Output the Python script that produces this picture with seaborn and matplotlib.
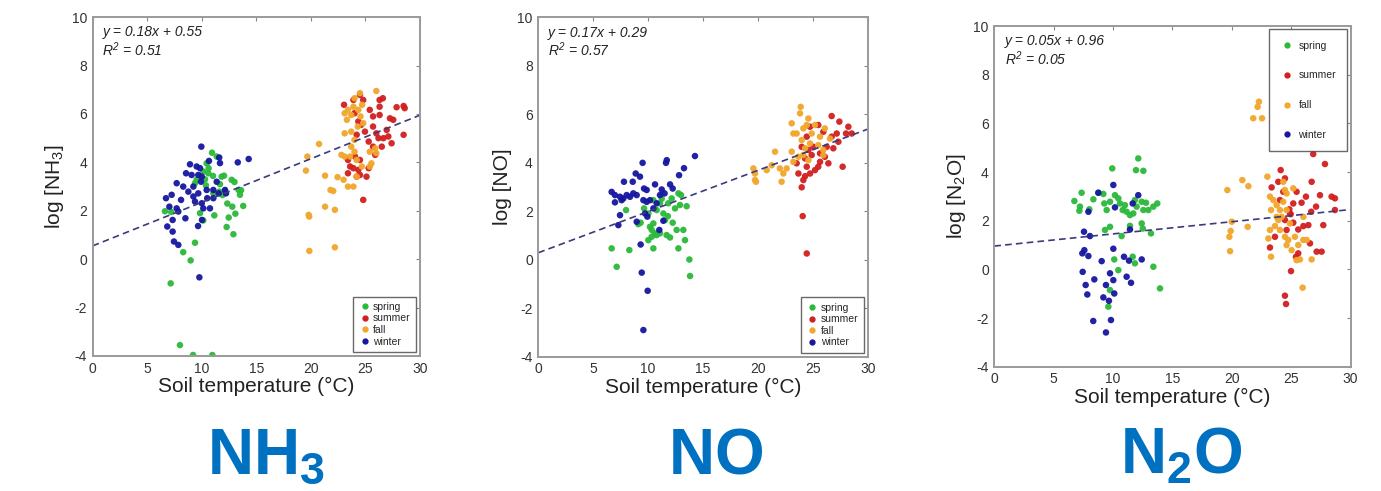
import numpy as np
import pandas as pd
import matplotlib
matplotlib.use("Agg")
import matplotlib.pyplot as plt
from matplotlib.lines import Line2D
import seaborn as sns

seasons = ["spring", "summer", "fall", "winter"]
season_colors = ["#2bb93a", "#d11f1f", "#f2a62c", "#1616a0"]
big_labels = [r"$\mathbf{NH_3}$", r"$\mathbf{NO}$", r"$\mathbf{N_2O}$"]
y_labels = [r"log [NH$_3$]", "log [NO]", r"log [N$_2$O]"]
slopes = [0.18, 0.17, 0.05]
intercepts = [0.55, 0.29, 0.96]
r2_values = [0.51, 0.57, 0.05]
x_ticks = [0, 5, 10, 15, 20, 25, 30]
y_ticks = [-4, -2, 0, 2, 4, 6, 8, 10]

# (soil temperature, log concentration)
nh3_spring = [(7.15, -1.0), (8.0, -3.55), (9.2, -3.96), (10.97, -3.96), (8.3, 0.29), (8.98, -0.05),
              (9.38, 0.68), (6.63, 1.98), (7.2, 1.95), (11.15, 1.81), (12.28, 1.33), (12.9, 1.03),
              (12.47, 1.72), (13.08, 1.88), (12.8, 2.17), (13.8, 2.2), (13.5, 2.66), (13.37, 2.86),
              (13.6, 2.85), (12.34, 2.3), (10.94, 4.4), (11.37, 4.24), (10.45, 3.96), (10.14, 3.62),
              (10.6, 3.55), (9.38, 3.14), (9.53, 3.28), (11.82, 3.41), (12.04, 3.45), (11.67, 3.1),
              (12.74, 3.28), (13.0, 3.19), (10.38, 3.05), (10.63, 3.76), (11.06, 2.72), (11.6, 2.79),
              (12.13, 2.82), (11.03, 3.44), (9.84, 1.9), (10.14, 1.6), (11.9, 2.65), (10.3, 3.3)]
nh3_winter = [(9.96, 4.65), (11.6, 4.2), (14.3, 4.14), (13.3, 4.0), (10.66, 4.06), (8.92, 3.92),
              (9.53, 3.83), (9.84, 3.76), (11.67, 3.97), (8.56, 3.55), (9.07, 3.48), (9.68, 3.48),
              (10.0, 3.41), (7.7, 3.14), (8.3, 3.0), (9.23, 3.0), (9.93, 3.2), (10.45, 2.86),
              (11.06, 2.86), (11.37, 3.2), (12.13, 2.86), (12.22, 2.72), (7.24, 2.66), (6.72, 2.52),
              (8.1, 2.45), (8.77, 2.79), (9.23, 2.59), (9.38, 2.38), (9.68, 2.72), (10.0, 2.31),
              (10.14, 2.1), (10.75, 2.1), (10.5, 2.52), (11.06, 2.52), (7.03, 2.17), (7.7, 2.1),
              (7.85, 1.97), (7.33, 1.62), (8.5, 1.69), (10.02, 1.62), (9.66, 1.37), (6.84, 1.35),
              (7.33, 1.14), (7.45, 0.73), (7.85, 0.59), (9.78, -0.75), (11.55, 2.72)]
nh3_fall = [(19.68, 4.24), (19.55, 3.66), (20.75, 4.76), (21.3, 3.45), (22.45, 3.39), (21.8, 2.86),
            (22.05, 2.82), (21.3, 2.17), (22.2, 2.04), (19.8, 1.83), (19.85, 1.76), (19.86, 0.34),
            (22.2, 0.49), (23.4, 3.0), (23.0, 3.28), (23.9, 3.0), (24.2, 3.41), (22.8, 4.31),
            (23.1, 4.24), (23.7, 4.65), (24.0, 4.93), (23.1, 5.2), (23.3, 5.76), (23.1, 6.03),
            (23.4, 6.17), (23.9, 6.3), (24.0, 6.65), (24.5, 6.86), (26.0, 6.95), (24.55, 5.9),
            (24.8, 5.62), (24.3, 5.48), (24.7, 6.38), (25.4, 4.44), (25.55, 3.96), (25.4, 3.83),
            (24.67, 3.83), (25.9, 4.58), (26.0, 4.38), (23.7, 5.27), (23.6, 4.24), (24.0, 4.44),
            (24.2, 4.1), (23.7, 5.96), (24.35, 6.17)]
nh3_summer = [(23.04, 6.38), (24.5, 6.79), (23.9, 6.58), (25.4, 6.17), (26.3, 6.58), (26.6, 6.65),
              (26.3, 6.3), (27.86, 6.28), (28.5, 6.33), (28.6, 6.24), (28.5, 5.14), (27.25, 5.82),
              (27.55, 5.76), (26.3, 5.96), (25.7, 5.9), (26.95, 5.34), (26.0, 5.2), (25.7, 5.48),
              (24.96, 5.27), (24.0, 6.03), (24.6, 5.55), (24.2, 5.14), (24.35, 5.69), (26.65, 5.0),
              (27.1, 5.07), (27.4, 4.79), (25.7, 4.65), (26.5, 4.65), (25.3, 4.86), (24.05, 4.24),
              (24.5, 4.1), (23.4, 4.1), (23.6, 3.83), (23.9, 3.76), (24.35, 3.69), (24.5, 3.48),
              (24.2, 3.41), (25.3, 3.76), (25.1, 3.41), (23.4, 3.55), (24.8, 2.45), (25.9, 4.31),
              (26.2, 5.0), (24.8, 6.58)]

no_winter = [(14.27, 4.28), (11.63, 4.0), (11.7, 4.11), (9.5, 4.0), (13.27, 3.78), (8.87, 3.56),
             (12.82, 3.49), (7.8, 3.22), (8.6, 3.22), (9.26, 3.43), (9.63, 2.94), (9.87, 2.88),
             (10.63, 3.11), (11.24, 2.9), (11.5, 2.74), (12.0, 3.11), (12.24, 2.94), (6.68, 2.8),
             (6.98, 2.67), (7.44, 2.6), (7.74, 2.53), (8.05, 2.67), (8.35, 2.6), (8.65, 2.74),
             (8.96, 2.67), (7.59, 2.46), (6.98, 2.37), (9.57, 2.46), (9.87, 2.39), (10.17, 2.46),
             (10.48, 2.12), (11.08, 2.67), (10.78, 2.33), (9.72, 1.91), (9.93, 1.78), (8.96, 1.57),
             (7.44, 1.84), (7.29, 1.43), (11.39, 1.61), (11.02, 1.23), (9.32, 0.63), (9.42, -0.53),
             (9.96, -1.28), (9.57, -2.9)]
no_spring = [(6.68, 0.47), (7.14, -0.29), (8.29, 0.4), (7.99, 2.05), (9.11, 1.47), (9.32, 1.53),
             (9.63, 2.12), (10.02, 1.91), (10.48, 2.46), (10.78, 2.05), (11.08, 2.33), (11.24, 2.52),
             (11.84, 2.33), (12.15, 2.53), (12.45, 2.12), (12.76, 2.74), (13.0, 2.67), (13.51, 2.21),
             (12.9, 2.26), (11.39, 1.91), (11.54, 1.64), (12.24, 1.53), (12.6, 1.23), (13.21, 1.23),
             (10.17, 1.36), (10.33, 1.23), (10.48, 1.5), (10.63, 1.09), (10.78, 1.02), (10.33, 0.95),
             (11.08, 1.09), (11.69, 1.02), (12.0, 0.92), (10.02, 0.81), (10.48, 0.47), (13.36, 0.81),
             (12.76, 0.47), (13.76, 0.01), (13.82, -0.67), (11.8, 1.8)]
no_fall = [(19.59, 3.77), (19.74, 3.56), (19.74, 3.29), (19.83, 3.22), (20.8, 3.7), (21.26, 3.9),
           (21.56, 4.46), (22.0, 3.77), (22.16, 3.22), (22.32, 3.56), (23.08, 4.46), (23.23, 5.21),
           (23.08, 5.63), (23.84, 6.04), (23.9, 6.31), (24.6, 5.83), (24.45, 5.56), (24.14, 5.42),
           (25.2, 5.56), (24.9, 5.21), (23.53, 5.21), (23.99, 4.94), (23.23, 4.04), (23.69, 4.25),
           (24.3, 4.6), (24.6, 4.11), (25.5, 4.73), (25.66, 5.08), (25.96, 4.53), (26.1, 5.42),
           (26.57, 5.0), (25.96, 4.32), (22.62, 3.77), (24.14, 4.32), (24.75, 4.8)]
no_summer = [(26.72, 5.93), (27.42, 5.7), (28.24, 5.49), (28.55, 5.21), (28.03, 5.21), (27.18, 5.21),
             (26.72, 5.08), (27.33, 4.87), (26.87, 4.6), (26.27, 4.66), (25.66, 4.39), (26.1, 4.25),
             (25.5, 5.56), (24.75, 5.49), (24.45, 5.08), (23.99, 4.66), (24.6, 4.53), (24.9, 4.32),
             (24.3, 4.18), (23.53, 3.98), (23.69, 3.56), (24.45, 3.84), (24.75, 3.56), (25.2, 3.7),
             (25.5, 3.84), (24.14, 3.29), (24.3, 3.45), (23.99, 2.99), (26.42, 3.98), (27.72, 3.84),
             (24.08, 1.8), (24.45, 0.26), (25.96, 5.28), (25.05, 4.66), (25.66, 4.04)]

n2o_spring = [(6.74, 2.81), (7.35, 3.15), (7.21, 2.58), (7.16, 2.41), (8.0, 2.47), (8.34, 2.88),
              (8.76, 3.15), (9.18, 3.1), (9.26, 2.71), (9.46, 2.44), (9.74, 2.78), (9.93, 4.15),
              (10.16, 3.05), (10.44, 2.92), (10.58, 2.71), (10.81, 2.44), (11.0, 2.64), (11.14, 2.37),
              (11.42, 2.23), (11.7, 2.3), (11.84, 2.85), (11.98, 2.58), (11.93, 4.08), (12.12, 4.56),
              (12.55, 4.05), (12.41, 2.78), (12.77, 2.74), (12.97, 2.44), (13.39, 2.58), (13.72, 2.71),
              (12.55, 2.44), (12.41, 1.89), (12.5, 1.68), (11.42, 1.79), (10.72, 1.37), (9.74, 1.75),
              (9.32, 1.62), (13.19, 1.48), (10.1, 0.41), (11.65, 0.52), (11.84, 0.25), (13.39, 0.11),
              (13.95, -0.78), (10.44, -0.03), (9.74, -0.85), (9.6, -1.53)]
n2o_winter = [(8.76, 3.15), (10.02, 3.47), (10.16, 2.55), (12.12, 3.05), (11.65, 2.71), (7.92, 2.37),
              (7.55, 1.55), (8.05, 1.37), (11.42, 1.64), (7.41, 0.66), (7.58, 0.79), (7.92, 0.55),
              (10.02, 0.85), (9.04, 0.34), (10.92, 0.52), (11.34, 0.36), (12.41, 0.41), (7.44, -0.1),
              (7.69, -0.64), (7.83, -1.03), (8.42, -0.41), (9.4, -0.64), (9.74, -0.16), (10.02, -0.44),
              (10.1, -0.99), (9.18, -1.15), (9.65, -1.29), (11.14, -0.3), (11.51, -0.55), (8.33, -2.12),
              (9.82, -2.08), (9.4, -2.59)]
n2o_fall = [(21.8, 6.21), (22.54, 6.21), (22.17, 6.68), (22.28, 6.89), (19.62, 3.26), (20.88, 3.67),
            (21.39, 3.42), (19.99, 1.96), (19.9, 1.58), (19.79, 1.34), (19.85, 0.75), (21.33, 1.75),
            (22.99, 3.81), (23.21, 2.99), (23.3, 2.44), (23.21, 1.62), (23.07, 1.27), (23.3, 0.52),
            (23.49, 2.85), (23.77, 2.64), (24.05, 2.44), (23.91, 2.03), (23.63, 1.78), (24.05, 1.62),
            (24.33, 3.6), (24.47, 3.26), (24.61, 3.12), (24.33, 2.78), (24.19, 2.16), (24.47, 1.34),
            (24.61, 1.0), (24.75, 1.21), (25.03, 0.79), (25.17, 3.33), (25.31, 1.34), (25.59, 1.0),
            (25.45, 0.38), (25.73, 0.41), (26.02, 1.21), (26.02, 2.16), (26.3, 1.21), (26.72, 0.41),
            (25.96, -0.75), (24.61, 2.44), (24.89, 1.89), (23.77, 2.16)]
n2o_summer = [(26.85, 4.74), (27.84, 4.33), (24.11, 4.08), (24.47, 3.74), (23.35, 3.37), (23.91, 3.6),
              (24.33, 3.19), (25.45, 3.19), (26.72, 3.6), (27.42, 3.05), (27.09, 2.58), (26.24, 2.99),
              (25.87, 2.74), (25.17, 2.71), (24.84, 2.47), (24.95, 2.27), (28.4, 2.99), (28.68, 2.92),
              (28.68, 2.44), (26.68, 2.37), (27.7, 1.82), (26.44, 1.82), (26.02, 1.78), (25.59, 1.64),
              (24.47, 2.03), (24.61, 1.62), (25.17, 1.92), (23.63, 1.34), (23.21, 0.9), (26.58, 1.07),
              (27.14, 0.73), (27.56, 0.73), (25.59, 0.66), (25.4, 0.52), (24.98, -0.07), (24.47, -1.08),
              (24.56, -1.42), (24.89, 2.3), (24.05, 2.85)]

panels = [
    {"spring": nh3_spring, "summer": nh3_summer, "fall": nh3_fall, "winter": nh3_winter},
    {"spring": no_spring, "summer": no_summer, "fall": no_fall, "winter": no_winter},
    {"spring": n2o_spring, "summer": n2o_summer, "fall": n2o_fall, "winter": n2o_winter},
]

sns.set_style("white")
plt.rcParams["font.family"] = ["Liberation Sans", "DejaVu Sans"]
plt.rcParams["axes.unicode_minus"] = False
plt.rcParams["mathtext.fontset"] = "custom"
plt.rcParams["mathtext.rm"] = "Liberation Sans"
plt.rcParams["mathtext.it"] = "Liberation Sans:italic"
plt.rcParams["mathtext.bf"] = "Liberation Sans:bold"
plt.rcParams["mathtext.default"] = "regular"

fig = plt.figure(figsize=(13.81, 4.91), dpi=100)
boxes = [[0.0671, 0.275, 0.237, 0.690],
         [0.3898, 0.2735, 0.2385, 0.691],
         [0.7200, 0.253, 0.258, 0.694]]
label_x = [0.150, 0.4837, 0.811]

for i, box in enumerate(boxes):
    ax = fig.add_axes(box)
    rows = []
    for season in seasons:
        for t, v in panels[i][season]:
            rows.append({"temp": t, "log": v, "season": season})
    df = pd.DataFrame(rows)

    sns.scatterplot(data=df, x="temp", y="log", hue="season", hue_order=seasons,
                    palette=season_colors, s=22, linewidth=0, alpha=0.95, ax=ax, legend=False)

    # fitted line from the printed equation
    xs = np.array([x_ticks[0], x_ticks[-1]])
    ax.plot(xs, slopes[i] * xs + intercepts[i], color="#3a3a7e", lw=1.2, ls=(0, (4, 2.5)))

    ax.set_xlim(x_ticks[0], x_ticks[-1])
    ax.set_ylim(y_ticks[0], y_ticks[-1])
    ax.set_xticks(x_ticks)
    ax.set_yticks(y_ticks)
    ax.tick_params(direction="in", length=3, width=0.8, color="#888888", labelcolor="#333333",
                   labelsize=10, top=True, right=True, pad=4)
    for sp in ax.spines.values():
        sp.set_color("#9a9a9a")
        sp.set_linewidth(1.4)
    ax.set_xlabel("Soil temperature (°C)", fontsize=15, color="#222222", labelpad=1)
    ax.set_ylabel(y_labels[i], fontsize=15, color="#222222", labelpad=4)

    ax.text(0.03, 0.955, f"y = {slopes[i]:.2f}x + {intercepts[i]:.2f}", transform=ax.transAxes,
            fontsize=10, style="italic", color="#222222", va="center")
    ax.text(0.03, 0.905, r"$\mathit{R}^2$ = " + f"{r2_values[i]:.2f}", transform=ax.transAxes,
            fontsize=10, style="italic", color="#222222", va="center")

    handles = [Line2D([], [], marker="o", ls="", color=c, markersize=3.5) for c in season_colors]
    if i < 2:
        leg = ax.legend(handles, seasons, loc="lower right", fontsize=7.5, frameon=True,
                        fancybox=False, handletextpad=0.2, labelspacing=0.15, borderpad=0.5,
                        handlelength=1.2, borderaxespad=0.4)
    else:
        leg = ax.legend(handles, seasons, loc="upper right", fontsize=7.5, frameon=True,
                        fancybox=False, handletextpad=0.5, labelspacing=1.9, borderpad=1.1,
                        handlelength=1.2, borderaxespad=0.3)
    leg.get_frame().set_edgecolor("#444444")
    leg.get_frame().set_linewidth(1.0)

    fig.text(label_x[i], 0.035, big_labels[i], fontsize=46, color="#0070c0",
             ha="left", va="baseline")

fig.savefig("out.png", dpi=100)
